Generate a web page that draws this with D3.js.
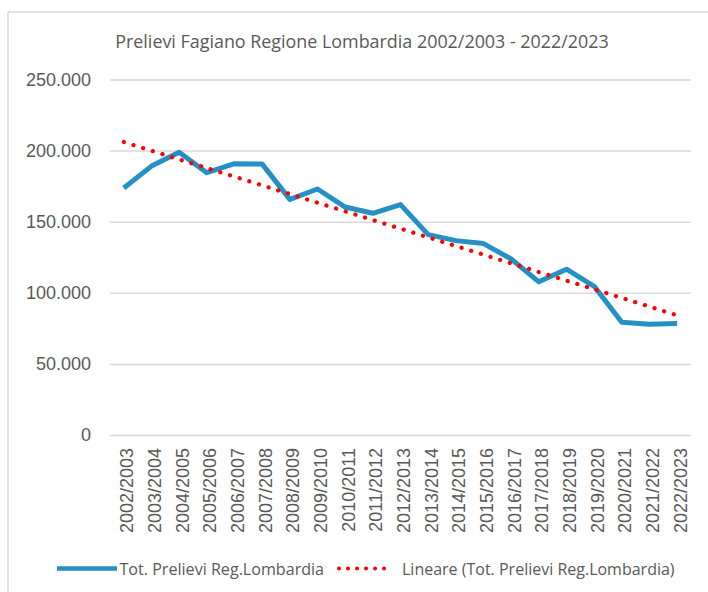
<!DOCTYPE html>
<html lang="it">
<head>
<meta charset="UTF-8">
<title>Prelievi Fagiano</title>
<script src="https://d3js.org/d3.v7.min.js"></script>
<style>
  body { margin: 0; background: #fff; }
  svg { display: block; }
</style>
</head>
<body>
<svg id="chart" width="708" height="592"></svg>
<script>
const categories = ['2002/2003','2003/2004','2004/2005','2005/2006','2006/2007','2007/2008','2008/2009',
    '2009/2010','2010/2011','2011/2012','2012/2013','2013/2014','2014/2015','2015/2016','2016/2017',
    '2017/2018','2018/2019','2019/2020','2020/2021','2021/2022','2022/2023'];
const prelievi = [173700, 189100, 198900, 184500, 190800, 190500, 165700, 173000, 160300, 155900, 162000,
    140900, 136700, 134600, 123800, 107700, 116600, 104600, 79300, 77900, 78400];
// trend line read at first and last season
const trendEnds = [206000, 84200];
const yTicks = [0, 50000, 100000, 150000, 200000, 250000];

const width = 708, height = 592;
const plot = {left: 110, right: 691, top: 79.5, bottom: 435};
const grey = '#595959';
const blue = '#2490C4';

const it = d3.formatLocale({decimal: ',', thousands: '.', grouping: [3], currency: ['€', '']});
const fmt = it.format(',');

const svg = d3.select('#chart');

// chart frame (cut off at right and bottom like the screenshot)
svg.append('rect').attr('x', 8).attr('y', 12).attr('width', 720).attr('height', 600)
    .attr('fill', 'none').attr('stroke', '#d9d9d9').attr('stroke-width', 1.5);

svg.append('text').text('Prelievi Fagiano Regione Lombardia 2002/2003 - 2022/2023')
    .attr('x', 362).attr('y', 48.3).attr('text-anchor', 'middle')
    .attr('font-family', '"Open Sans", sans-serif')
    .attr('font-size', 17.9).attr('fill', grey);

const x = d3.scalePoint().domain(categories).range([plot.left, plot.right]).padding(0.5);
const y = d3.scaleLinear().domain([0, 250000]).range([plot.bottom, plot.top]);

// gridlines + y labels
const yAxis = svg.append('g').attr('transform', `translate(${plot.left},0)`)
    .call(d3.axisLeft(y).tickValues(yTicks).tickFormat(fmt)
        .tickSize(-(plot.right - plot.left)).tickPadding(19));
yAxis.select('.domain').remove();
yAxis.selectAll('.tick line').attr('stroke', '#d9d9d9').attr('stroke-width', 1.5);
yAxis.selectAll('.tick text').attr('fill', grey)
    .attr('font-family', '"Liberation Sans", Arial, sans-serif').attr('font-size', 18);

// x labels
const xAxis = svg.append('g').attr('transform', `translate(0,${plot.bottom})`)
    .call(d3.axisBottom(x).tickSize(0));
xAxis.select('.domain').remove();
xAxis.selectAll('.tick text')
    .attr('transform', 'rotate(-90)')
    .attr('text-anchor', 'end')
    .attr('x', -13).attr('y', 0).attr('dy', '0.5em')
    .attr('fill', grey)
    .attr('font-family', '"Liberation Sans", Arial, sans-serif').attr('font-size', 18);

// data line
svg.append('path').datum(prelievi)
    .attr('d', d3.line().x((d, i) => x(categories[i])).y(d => y(d)))
    .attr('fill', 'none').attr('stroke', blue).attr('stroke-width', 5)
    .attr('stroke-linejoin', 'round');

// linear trend, dotted
const ends = [categories[0], categories[categories.length - 1]];
svg.append('path').datum(trendEnds)
    .attr('d', d3.line().x((d, i) => x(ends[i])).y(d => y(d)))
    .attr('fill', 'none').attr('stroke', '#ff0000').attr('stroke-width', 4.3)
    .attr('stroke-linecap', 'round').attr('stroke-dasharray', '0.01 10.1');

// legend
const legendFont = '"Open Sans", sans-serif';
const lg = svg.append('g').attr('transform', 'translate(0,568.5)');
lg.append('line').attr('x1', 57).attr('x2', 117).attr('stroke', blue).attr('stroke-width', 4.5);
lg.append('text').text('Tot. Prelievi Reg.Lombardia').attr('x', 119.5).attr('y', 6)
    .attr('font-family', legendFont).attr('font-size', 16.1).attr('fill', grey);
lg.append('line').attr('x1', 339).attr('x2', 385).attr('stroke', '#ff0000').attr('stroke-width', 4)
    .attr('stroke-linecap', 'round').attr('stroke-dasharray', '0.01 9');
lg.append('text').text('Lineare (Tot. Prelievi Reg.Lombardia)').attr('x', 402).attr('y', 6)
    .attr('font-family', legendFont).attr('font-size', 16).attr('fill', grey);
</script>
</body>
</html>
